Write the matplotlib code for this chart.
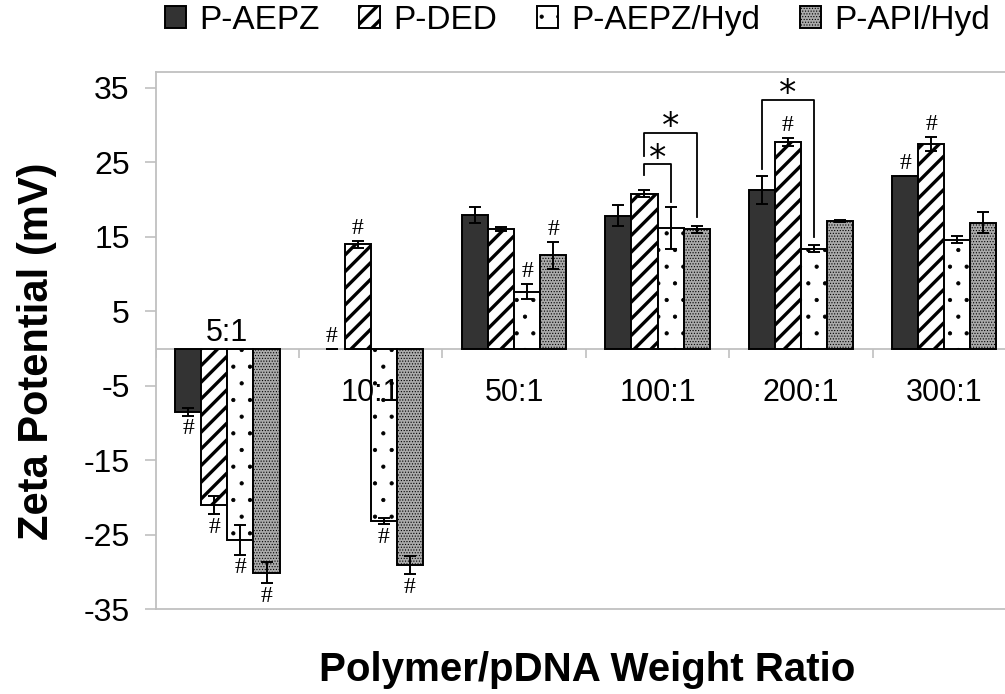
import numpy as np
import matplotlib
matplotlib.use("Agg")
import matplotlib.pyplot as plt

plt.rcParams['font.family'] = ['Liberation Sans', 'DejaVu Sans']
plt.rcParams['axes.unicode_minus'] = False

# data
ratios = ["5:1", "10:1", "50:1", "100:1", "200:1", "300:1"]
series = ["P-AEPZ", "P-DED", "P-AEPZ/Hyd", "P-API/Hyd"]

aepz = [-8.5, 0.0, 17.9, 17.85, 21.3, 23.1]
aepz_err = [0.5, 0.0, 1.1, 1.4, 1.85, 0.0]
ded = [-21.0, 14.0, 16.0, 20.8, 27.7, 27.4]
ded_err = [1.2, 0.45, 0.25, 0.5, 0.5, 0.95]
aepz_hyd = [-25.7, -23.2, 7.6, 16.2, 13.4, 14.6]
aepz_hyd_err = [1.95, 0.4, 1.0, 2.85, 0.45, 0.45]
api_hyd = [-30.1, -29.1, 12.5, 16.0, 17.1, 16.9]
api_hyd_err = [1.4, 1.2, 1.85, 0.45, 0.15, 1.4]

# '#' markers: (ratio index, series index)
hash_marks = [(0, 0), (0, 1), (0, 2), (0, 3), (1, 0), (1, 1), (1, 2), (1, 3),
              (2, 2), (2, 3), (4, 1), (5, 0), (5, 1)]
# '*' brackets: (ratio index, left series, right series, top, left leg end, right leg end)
brackets = [(3, 1, 2, 24.7, 23.3, 19.7),
            (3, 1, 3, 28.9, 25.8, 17.7),
            (4, 0, 2, 33.35, 24.05, 15.0)]
label_y = [2.1, -6.0, -6.0, -6.0, -6.0, -6.0]

values = [aepz, ded, aepz_hyd, api_hyd]
errors = [aepz_err, ded_err, aepz_hyd_err, api_hyd_err]
faces = ["#333333", "white", "white", "#aaaaaa"]
hatches = [None, "//", ".", "......"]
hatch_lw = [1.0, 2.4, 0.6, 0.5]


def use_hatch_lw(patch, lw):
    # hatch line width is a global rc setting, so switch it while this patch draws
    if hasattr(patch, "set_hatch_linewidth"):
        patch.set_hatch_linewidth(lw)
    orig = patch.draw

    def draw(renderer):
        with plt.rc_context({"hatch.linewidth": lw}):
            orig(renderer)
    patch.draw = draw


fig = plt.figure(figsize=(10.05, 6.94), dpi=100)
ax = fig.add_axes([155.7 / 1005, 1 - 609.3 / 694, (1016 - 155.7) / 1005, (609.3 - 72.3) / 694])

x = np.arange(len(ratios))
width = 0.182
grey = "#c0c0c0"

ax.axhline(0, color=grey, lw=1.3, zorder=1)
ax.vlines(np.arange(len(ratios) + 1) - 0.5, -1.3, 0, color=grey, lw=1.2, zorder=1)

for i, name in enumerate(series):
    xs = x + (i - 1.5) * width
    bars = ax.bar(xs, values[i], width, color=faces[i], edgecolor="black",
                  linewidth=1.4, hatch=hatches[i], label=name, zorder=2)
    for b, v in zip(bars, values[i]):
        use_hatch_lw(b, hatch_lw[i])
        if v == 0:
            b.set_linewidth(0)
    ax.errorbar(xs, values[i], yerr=errors[i], fmt="none", ecolor="black",
                elinewidth=1.4, capsize=4.5, capthick=1.4, zorder=3)

for g, s in hash_marks:
    v = values[s][g]
    e = errors[s][g]
    xs = g + (s - 1.5) * width
    if v >= 0:
        ax.annotate("#", (xs, v + e), xytext=(0, 9), textcoords="offset points",
                    ha="center", va="center", fontsize=17, family="Liberation Serif")
    else:
        ax.annotate("#", (xs, v - e), xytext=(0, -9.5), textcoords="offset points",
                    ha="center", va="center", fontsize=17, family="Liberation Serif")

for g, s1, s2, top, l_end, r_end in brackets:
    x1 = g + (s1 - 1.5) * width
    x2 = g + (s2 - 1.5) * width
    ax.plot([x1, x1, x2, x2], [l_end, top, top, r_end], color="black", lw=1.3, zorder=4)
    ax.annotate("*", ((x1 + x2) / 2, top), xytext=(0, -8), textcoords="offset points",
                ha="center", va="bottom", fontsize=25, family="DejaVu Sans")

for i, r in enumerate(ratios):
    ax.text(x[i], label_y[i], r, ha="center", va="center", fontsize=22)

ax.set_xlim(-0.5, len(ratios) - 0.5)
ax.set_ylim(-35, 37.07)
ax.set_yticks(np.arange(-35, 36, 10))
ax.set_xticks([])
ax.tick_params(axis="y", direction="out", length=7.7, width=1.2, color=grey,
               labelsize=23, pad=11)
for side in ["left", "top", "bottom"]:
    ax.spines[side].set_color(grey)
    ax.spines[side].set_linewidth(1.3)
ax.spines["right"].set_visible(False)

fig.text(37 / 1005, 1 - 351.5 / 694, "Zeta Potential (mV)", rotation=90,
         ha="center", va="center", fontsize=30, fontweight="bold")
fig.text(587 / 1005, 1 - 680.7 / 694, "Polymer/pDNA Weight Ratio",
         ha="center", va="baseline", fontsize=29, fontweight="bold")

leg = fig.legend(loc="upper left", bbox_to_anchor=(165 / 1005, 1 - 5 / 694), ncol=4,
                 frameon=False, fontsize=24, handlelength=0.62, handleheight=0.64,
                 handletextpad=0.4, columnspacing=1.2, borderpad=0, borderaxespad=0)
for p, lw in zip(leg.get_patches(), hatch_lw):
    use_hatch_lw(p, lw)

fig.savefig("out.png", dpi=100)
